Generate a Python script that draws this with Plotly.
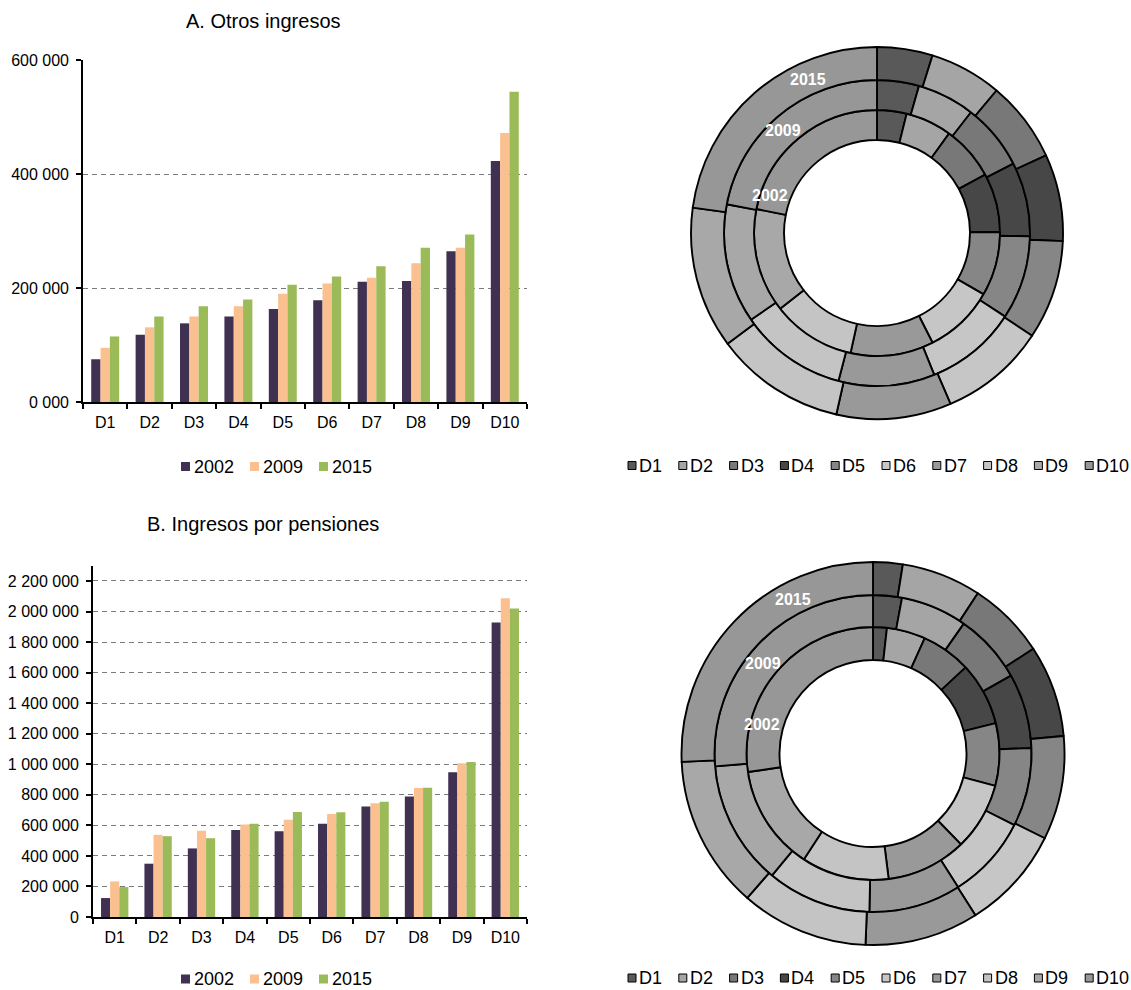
import plotly.graph_objects as go

# ---- data -------------------------------------------------------------
deciles = ["D1", "D2", "D3", "D4", "D5", "D6", "D7", "D8", "D9", "D10"]
years = ["2002", "2009", "2015"]

# A. Otros ingresos
otros_2002 = [75000, 118000, 138000, 150000, 163000, 178500, 211000, 212500, 264500, 423000]
otros_2009 = [95000, 131000, 150000, 168000, 190000, 208000, 218000, 243500, 270500, 472000]
otros_2015 = [115000, 150000, 168000, 180000, 205500, 220000, 238000, 270500, 294000, 544500]

# B. Ingresos por pensiones
pens_2002 = [124000, 349000, 449000, 569000, 562000, 610000, 723000, 789000, 948000, 1928000]
pens_2009 = [233000, 538000, 564000, 606000, 636000, 675000, 745000, 845000, 1007000, 2087000]
pens_2015 = [196000, 529000, 516000, 610000, 688000, 686000, 755000, 847000, 1015000, 2020000]

otros_tickvals = [0, 200000, 400000, 600000]
otros_ticktext = ["0 000", "200 000", "400 000", "600 000"]
pens_tickvals = [0, 200000, 400000, 600000, 800000, 1000000, 1200000,
                 1400000, 1600000, 1800000, 2000000, 2200000]
pens_ticktext = ["0", "200 000", "400 000", "600 000", "800 000", "1 000 000",
                 "1 200 000", "1 400 000", "1 600 000", "1 800 000",
                 "2 000 000", "2 200 000"]

# ---- styles -----------------------------------------------------------
W, H = 1131, 990
FONT = "Liberation Sans, Arial, sans-serif"
year_colors = ["#403152", "#FAC090", "#9BBB59"]
decile_grays = ["#595959", "#a5a5a5", "#787878", "#474747", "#868686",
                "#c6c6c6", "#999999", "#c4c4c4", "#a8a8a8", "#979797"]


def px(x):
    return x / W


def py(y):
    return 1 - y / H


fig = go.Figure()

# ---- grouped bars -----------------------------------------------------
panels = [
    ("x", "y", [otros_2002, otros_2009, otros_2015]),
    ("x2", "y2", [pens_2002, pens_2009, pens_2015]),
]
for xa, ya, series in panels:
    for name, vals, col in zip(years, series, year_colors):
        fig.add_trace(go.Bar(
            x=deciles, y=vals, name=name, marker_color=col,
            marker_line_width=0, xaxis=xa, yaxis=ya,
            showlegend=False, hoverinfo="skip",
        ))

# ---- concentric donuts (inner 2002, middle 2009, outer 2015) -----------
donuts = [
    ((877, 233), [93, 123, 153, 186], [otros_2002, otros_2009, otros_2015]),
    ((873, 753.5), [93.5, 126.5, 158.5, 191.5], [pens_2002, pens_2009, pens_2015]),
]
for (cx, cy), radii, series in donuts:
    for i, vals in enumerate(series):
        r_in, r_out = radii[i], radii[i + 1]
        fig.add_trace(go.Pie(
            labels=deciles, values=vals, sort=False, direction="clockwise",
            rotation=0, hole=r_in / r_out,
            domain=dict(x=[px(cx - r_out), px(cx + r_out)],
                        y=[py(cy + r_out), py(cy - r_out)]),
            marker=dict(colors=decile_grays, line=dict(color="black", width=1.9)),
            textinfo="none", hoverinfo="skip", showlegend=False,
        ))

# ---- axes -------------------------------------------------------------
axis_common = dict(
    showline=True, linecolor="black", linewidth=1.6,
    ticks="outside", ticklen=5, tickwidth=1.5, tickcolor="black",
    tickfont=dict(family=FONT, size=16, color="black"),
    automargin=False,
)
grid = dict(showgrid=True, gridcolor="#7a7a7a", gridwidth=1.2, griddash="5px,4px",
            zeroline=False)

fig.update_layout(
    width=W, height=H,
    margin=dict(l=0, r=0, t=0, b=0, autoexpand=False),
    paper_bgcolor="white", plot_bgcolor="white",
    bargap=0.37, bargroupgap=0, barmode="group",
    font=dict(family=FONT, color="black"),
    xaxis=dict(domain=[px(83), px(527)], anchor="y", range=[-0.5, 9.5],
               tickson="boundaries", showgrid=False, ticklabelstandoff=5,
               **axis_common),
    yaxis=dict(domain=[py(402), py(60)], anchor="x", range=[0, 600000],
               tickvals=otros_tickvals, ticktext=otros_ticktext,
               ticklabelstandoff=4, **grid, **axis_common),
    xaxis2=dict(domain=[px(93), px(527)], anchor="y2", range=[-0.5, 9.5],
                tickson="boundaries", showgrid=False, ticklabelstandoff=5,
                **axis_common),
    yaxis2=dict(domain=[py(917), py(565.7)], anchor="x2", range=[0, 2300000],
                tickvals=pens_tickvals, ticktext=pens_ticktext,
                ticklabelstandoff=4, **grid, **axis_common),
)

annotations = []
shapes = []

# panel titles
for text, y in [("A. Otros ingresos", 21), ("B. Ingresos por pensiones", 524)]:
    annotations.append(dict(text=text, x=px(263), y=py(y), xref="paper", yref="paper",
                            showarrow=False, xanchor="center", yanchor="middle",
                            font=dict(family=FONT, size=20, color="black")))

# ring labels on the donuts
ring_label_pos = [
    [(770, 196), (783, 131), (808, 80)],
    [(762, 724), (763, 663), (793, 599)],
]
for positions in ring_label_pos:
    for name, (x, y) in zip(years, positions):
        annotations.append(dict(text="<b>%s</b>" % name, x=px(x), y=py(y),
                                xref="paper", yref="paper", showarrow=False,
                                xanchor="center", yanchor="middle",
                                font=dict(family=FONT, size=16, color="white")))

# legends for the bar charts
for ly in (466.5, 979):
    for i, (name, col) in enumerate(zip(years, year_colors)):
        x0 = 181 + i * 69
        shapes.append(dict(type="rect", xref="paper", yref="paper",
                           x0=px(x0), x1=px(x0 + 9), y0=py(ly + 4.5), y1=py(ly - 4.5),
                           fillcolor=col, line=dict(width=0)))
        annotations.append(dict(text=name, x=px(x0 + 11), y=py(ly), xref="paper",
                                yref="paper", showarrow=False, xanchor="left",
                                yanchor="middle",
                                font=dict(family=FONT, size=18, color="black")))

# legends for the donuts
for ly in (465.5, 978):
    for i, (name, col) in enumerate(zip(deciles, decile_grays)):
        x0 = 628 + i * 50.8
        shapes.append(dict(type="rect", xref="paper", yref="paper",
                           x0=px(x0), x1=px(x0 + 8), y0=py(ly + 4), y1=py(ly - 4),
                           fillcolor=col, line=dict(color="black", width=1)))
        annotations.append(dict(text=name, x=px(x0 + 9), y=py(ly), xref="paper",
                                yref="paper", showarrow=False, xanchor="left",
                                yanchor="middle",
                                font=dict(family=FONT, size=18, color="black")))

fig.update_layout(annotations=annotations, shapes=shapes)

fig.write_html("out.html")
